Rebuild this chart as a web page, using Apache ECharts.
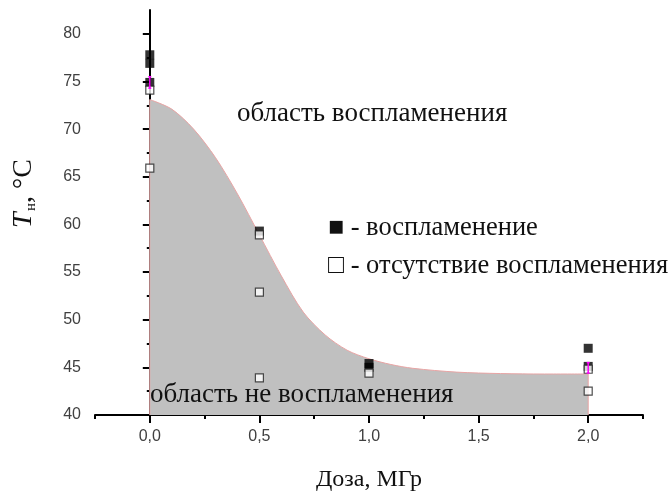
<!DOCTYPE html>
<html>
<head>
<meta charset="utf-8">
<script src="https://cdn.jsdelivr.net/npm/echarts@6/dist/echarts.min.js"></script>
<style>
  html, body { margin: 0; padding: 0; background: #fff; }
  #chart { width: 670px; height: 493px; }
</style>
</head>
<body>
<div id="chart"></div>
<script>
// Boundary between ignition / no-ignition regions (dose, MGy -> T, °C)
const boundaryDose = [0, 0.1, 0.2, 0.3, 0.4, 0.5, 0.6, 0.7, 0.8, 0.9, 1.0, 1.1, 1.2, 1.4, 1.6, 1.8, 2.0];
const boundaryTemp = [73.1, 72.1, 70.0, 67.0, 63.2, 58.9, 54.6, 50.8, 48.4, 46.8, 45.9, 45.3, 44.9, 44.5, 44.35, 44.3, 44.3];

// Ignition observed (filled squares)
const igniteDose = [0, 0, 0, 0.5, 1.0, 1.0, 2.0, 2.0];
const igniteTemp = [77.8, 76.9, 74.9, 59.3, 45.4, 45.0, 47.0, 45.1];

// No ignition (open squares)
const noIgniteDose = [0, 0, 0.5, 0.5, 0.5, 1.0, 2.0, 2.0];
const noIgniteTemp = [74.1, 65.9, 58.9, 52.9, 43.9, 44.4, 44.8, 42.5];

// Spread markers (magenta bars)
const spreadDose = [0, 2.0];
const spreadLow = [74.3, 44.4];
const spreadHigh = [75.5, 45.5];

// Axis ticks
const xMajorTicks = [0, 0.5, 1.0, 1.5, 2.0];
const xMinorTicks = [-0.25, 0.25, 0.75, 1.25, 1.75, 2.25];
const yMajorTicks = [40, 45, 50, 55, 60, 65, 70, 75, 80];
const yMinorTicks = [42.5, 47.5, 52.5, 57.5, 62.5, 67.5, 72.5, 77.5];

const X_MIN = -0.25, X_MAX = 2.25, Y_MIN = 40, Y_MAX = 82.5;

const zip = (a, b) => a.map((v, i) => [v, b[i]]);

const chart = echarts.init(document.getElementById('chart'), null, { renderer: 'canvas' });

const tickLabelStyle = { fontFamily: 'Liberation Sans, Arial, sans-serif', fontSize: 16, color: '#404040' };
const serif = 'Liberation Serif, Times New Roman, serif';
const lineColor = '#e8a4a4';

const option = {
  animation: false,
  grid: { left: 95, right: 27, top: 10, bottom: 78, containLabel: false, outerBoundsMode: 'none' },
  xAxis: [
    {
      type: 'value', min: X_MIN, max: X_MAX,
      axisLine: { lineStyle: { color: '#000', width: 2 } },
      axisTick: { show: true, length: 8, lineStyle: { color: '#000', width: 2 }, customValues: xMajorTicks },
      axisLabel: Object.assign({ customValues: xMajorTicks, margin: 14,
        formatter: v => v.toFixed(1).replace('.', ',') }, tickLabelStyle),
      splitLine: { show: false },
      name: 'Доза, МГр', nameLocation: 'middle', nameGap: 53,
      nameTextStyle: { fontFamily: serif, fontSize: 24, color: '#111' }
    },
    {
      type: 'value', min: X_MIN, max: X_MAX, position: 'bottom',
      axisLine: { show: false },
      axisTick: { show: true, length: 4, lineStyle: { color: '#000', width: 2 }, customValues: xMinorTicks },
      axisLabel: { show: false }, splitLine: { show: false }
    }
  ],
  yAxis: [
    {
      type: 'value', min: Y_MIN, max: Y_MAX,
      axisLine: { show: true, lineStyle: { color: '#000', width: 2 } },
      axisTick: { show: true, length: 7, lineStyle: { color: '#000', width: 2 }, customValues: yMajorTicks },
      axisLabel: Object.assign({ customValues: yMajorTicks, margin: 14 }, tickLabelStyle),
      splitLine: { show: false }
    },
    {
      type: 'value', min: Y_MIN, max: Y_MAX, position: 'left',
      axisLine: { show: false },
      axisTick: { show: true, length: 3, lineStyle: { color: '#000', width: 2 }, customValues: yMinorTicks },
      axisLabel: { show: false }, splitLine: { show: false }
    }
  ],
  series: [
    {
      name: 'boundary', type: 'line', smooth: 0.3,
      data: zip(boundaryDose, boundaryTemp), symbol: 'none',
      lineStyle: { color: lineColor, width: 1 },
      areaStyle: { color: '#c0c0c0', opacity: 1, origin: 'start' },
      z: 1
    },
    {
      name: 'edgeLeft', type: 'line', symbol: 'none',
      data: [[boundaryDose[0], Y_MIN], [boundaryDose[0], boundaryTemp[0]]],
      lineStyle: { color: lineColor, width: 1 }, z: 2
    },
    {
      name: 'edgeRight', type: 'line', symbol: 'none',
      data: [[boundaryDose[boundaryDose.length - 1], Y_MIN], [boundaryDose[boundaryDose.length - 1], boundaryTemp[boundaryTemp.length - 1]]],
      lineStyle: { color: lineColor, width: 1 }, z: 2
    },
    {
      name: 'воспламенение', type: 'scatter', symbol: 'rect', symbolSize: 9,
      data: zip(igniteDose, igniteTemp),
      itemStyle: { color: '#000' }, z: 3
    },
    {
      name: 'отсутствие воспламенения', type: 'scatter', symbol: 'rect', symbolSize: 8,
      data: zip(noIgniteDose, noIgniteTemp),
      itemStyle: { color: '#fff', borderColor: '#222', borderWidth: 1.2 }, z: 4
    },
    {
      name: 'spread', type: 'custom',
      data: spreadDose.map((d, i) => [d, spreadLow[i], spreadHigh[i]]),
      renderItem: (params, api) => {
        const lo = api.coord([api.value(0), api.value(1)]);
        const hi = api.coord([api.value(0), api.value(2)]);
        const st = { stroke: '#ff00ff', lineWidth: 1.5 };
        return {
          type: 'group',
          children: [
            { type: 'line', shape: { x1: lo[0], y1: lo[1], x2: hi[0], y2: hi[1] }, style: st },
            { type: 'line', shape: { x1: lo[0] - 1.5, y1: lo[1], x2: lo[0] + 1.5, y2: lo[1] }, style: st },
            { type: 'line', shape: { x1: hi[0] - 1.5, y1: hi[1], x2: hi[0] + 1.5, y2: hi[1] }, style: st }
          ]
        };
      },
      z: 5
    }
  ],
  graphic: [
    { type: 'text', left: 237, top: 100, z: 100,
      style: { text: 'область воспламенения', font: '27px ' + serif, fill: '#111' } },
    { type: 'text', left: 150, top: 381, z: 100,
      style: { text: 'область не воспламенения', font: '27px ' + serif, fill: '#111' } },
    { type: 'text', left: 328, top: 215, z: 100,
      style: { text: '■ - воспламенение', font: '26.5px ' + serif, fill: '#111' } },
    { type: 'text', left: 328, top: 253, z: 100,
      style: { text: '□ - отсутствие воспламенения', font: '26.5px ' + serif, fill: '#111' } },
    // rotated axis title: T (italic), subscript н, then ", °C"
    { type: 'text', x: 38, y: 228, rotation: Math.PI / 2, z: 100,
      style: { text: 'T', font: 'italic 28px ' + serif, fill: '#111', textAlign: 'left', textVerticalAlign: 'bottom' } },
    { type: 'text', x: 39, y: 211, rotation: Math.PI / 2, z: 100,
      style: { text: 'н', font: '15px ' + serif, fill: '#111', textAlign: 'left', textVerticalAlign: 'bottom' } },
    { type: 'text', x: 38, y: 203, rotation: Math.PI / 2, z: 100,
      style: { text: ', °C', font: '28px ' + serif, fill: '#111', textAlign: 'left', textVerticalAlign: 'bottom' } }
  ]
};

chart.setOption(option);
</script>
</body>
</html>
